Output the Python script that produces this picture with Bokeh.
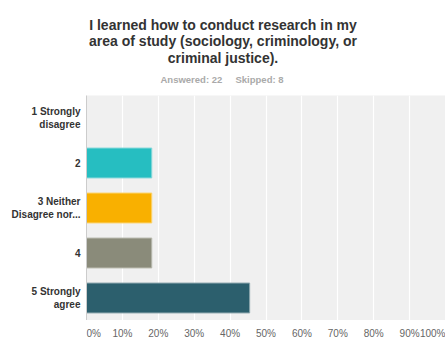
from bokeh.plotting import figure
from bokeh.models import FactorRange, Range1d, FixedTicker, ColumnDataSource
from bokeh.layouts import column
from bokeh.core.properties import value
from bokeh.embed import file_html
from bokeh.resources import INLINE

# ---- data ----
categories = ["1 Strongly\ndisagree", "2", "3 Neither\nDisagree nor...", "4", "5 Strongly\nagree"]
percents = [0.0, 18.18, 18.18, 18.18, 45.45]
bar_colors = ["#7FB2D5", "#26BEC1", "#F9B000", "#8A8B7A", "#2C5F6D"]
bar_outlines = [None, "#86D8DA", "#FCD46E", "#B9BAAF", "#8DA7AE"]
tick_values = [0, 10, 20, 30, 40, 50, 60, 70, 80, 90, 100]
tick_labels = ["0%", "10%", "20%", "30%", "40%", "50%", "60%", "70%", "80%", "90%", "100%"]
title_lines = ["I learned how to conduct research in my",
               "area of study (sociology, criminology, or",
               "criminal justice)."]
answered_text = "Answered: 22"
skipped_text = "Skipped: 8"

# ---- layout constants ----
W = 445
HEAD_H, MAIN_H, FOOT_H = 95, 225, 21
LEFT = 86
FONT = "Liberation Sans"


def blank(height, x_range, left=0):
    f = figure(width=W, height=height, x_range=x_range, y_range=Range1d(height, 0),
               title=None, output_backend="svg", toolbar_location=None,
               x_axis_location=None, y_axis_location=None,
               min_border_left=left, min_border_right=0, min_border_top=0, min_border_bottom=0)
    f.grid.visible = False
    f.outline_line_color = None
    f.background_fill_color = "white"
    f.border_fill_color = "white"
    return f


# ---- header (title + answered/skipped) ----
head = blank(HEAD_H, Range1d(0, W))
head.frame_align = False
head.text(x=[W / 2] * 3, y=[24, 40.5, 57], text=title_lines,
          text_font=value(FONT), text_font_size=value("14px"), text_font_style="bold",
          text_align="center", text_baseline="alphabetic", text_color="#333333")
head.text(x=[160], y=[79], text=[answered_text],
          text_font=value(FONT), text_font_size=value("9.5px"), text_font_style="bold",
          text_align="left", text_baseline="alphabetic", text_color="#AAAAAA")
head.text(x=[235], y=[79], text=[skipped_text],
          text_font=value(FONT), text_font_size=value("9.5px"), text_font_style="bold",
          text_align="left", text_baseline="alphabetic", text_color="#AAAAAA")

# ---- main bar chart ----
p = figure(width=W, height=MAIN_H, title=None,
           y_range=FactorRange(factors=categories[::-1], range_padding=0),
           x_range=Range1d(0, 100),
           output_backend="svg", toolbar_location=None,
           min_border_left=LEFT, min_border_right=0,
           min_border_top=0, min_border_bottom=0)
p.background_fill_color = "#F0F0F0"
p.border_fill_color = "white"
p.outline_line_color = None
p.xaxis.visible = False

src = ColumnDataSource(dict(cat=categories, val=percents, color=bar_colors, outline=bar_outlines))
p.hbar(y="cat", left=0, right="val", height=0.665, source=src,
       fill_color="color", line_color="outline", line_width=1)

p.xgrid.grid_line_color = "white"
p.xgrid.grid_line_width = 1.2
p.xgrid.ticker = FixedTicker(ticks=tick_values)
p.ygrid.grid_line_color = None

ya = p.yaxis[0]
ya.major_tick_line_color = None
ya.major_tick_out = 0
ya.major_tick_in = 0
ya.minor_tick_line_color = None
ya.axis_line_color = "#CCCCCC"
ya.major_label_standoff = 6
ya.major_label_text_font = FONT
ya.major_label_text_font_size = "10px"
ya.major_label_text_font_style = "bold"
ya.major_label_text_color = "#333333"

# ---- footer: x tick labels on the same x scale ----
foot = blank(FOOT_H, p.x_range, left=LEFT)
tick_style = dict(text_font=value(FONT), text_font_size=value("10px"),
                  text_baseline="middle", text_color="#666666")
ty = 13
foot.text(x=tick_values[:1], y=[ty], text=tick_labels[:1], text_align="left", **tick_style)
foot.text(x=tick_values[1:-1], y=[ty] * (len(tick_values) - 2), text=tick_labels[1:-1],
          text_align="center", **tick_style)
foot.text(x=tick_values[-1:], y=[ty], text=tick_labels[-1:], text_align="right", **tick_style)

layout = column(head, p, foot, spacing=0)
open("out.html", "w").write(file_html(layout, INLINE))
